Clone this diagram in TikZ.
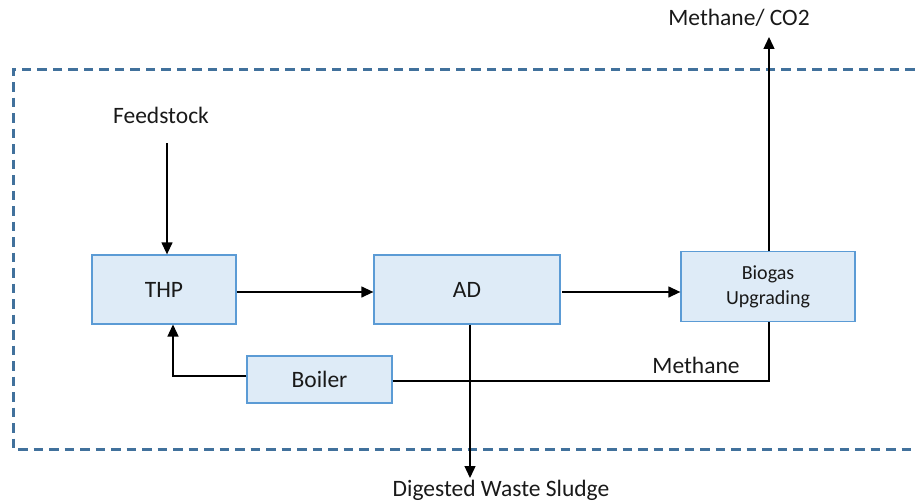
\documentclass[tikz,border=0pt]{standalone}
\usepackage{fontspec}
\setmainfont{Carlito}
\usetikzlibrary{arrows.meta}
\definecolor{boxfill}{HTML}{DEEBF7}
\definecolor{boxline}{HTML}{5B9BD5}
\definecolor{dashcol}{HTML}{41719C}
\tikzset{
  procbox/.style={draw=boxline, fill=boxfill, line width=1.3pt, inner sep=0pt,
    font=\fontsize{23.5}{27}\selectfont, text=black!90},
  lbl/.style={font=\fontsize{23.5}{27}\selectfont, text=black!90, inner sep=0pt},
  conn/.style={line width=1.3pt, -{Triangle[length=12pt,width=11pt]}},
  plain/.style={line width=1.3pt},
  border/.style={draw=dashcol, line width=3pt, dash pattern=on 9.5pt off 6pt}
}
\begin{document}
\begin{tikzpicture}[x=1pt,y=-1pt]
\useasboundingbox (0,0) rectangle (917,503);
\begin{scope}
\clip (0,0) rectangle (917,503);
\draw[border] (930,69) -- (13,69) -- (13,449) -- (930,449);
\end{scope}
\node[procbox, minimum width=144pt, minimum height=69pt] (thp) at (164,289.5) {THP};
\node[procbox, minimum width=186pt, minimum height=69pt] (ad) at (467,289.5) {AD};
\node[procbox, minimum width=174pt, minimum height=70pt, align=center,
      font=\fontsize{20}{25}\selectfont] (bio) at (768,286.5) {Biogas\\Upgrading};
\node[procbox, minimum width=145pt, minimum height=47pt] (boil) at (319.5,379.5) {Boiler};
\node[lbl] (feed) at (161,115) {Feedstock};
\node[lbl] (mco) at (739,18) {Methane/ CO2};
\node[lbl] (meth) at (696,365) {Methane};
\node[lbl] (dws) at (501,490) {Digested Waste Sludge};
\coordinate (fs) at (167,143);
\coordinate (mtop) at (769,37);
\coordinate (dend) at (470,478);
\draw[conn] (fs) -- (fs |- thp.north);
\draw[conn] (thp.east |- 0,292) -- (ad.west |- 0,292);
\draw[conn] (562,292) -- (bio.west |- 0,292);
\draw[conn] (bio.north -| 769,0) -- (mtop);
\draw[conn] (boil.west |- 0,376) -- (173,376) -- (173,324.5);
\draw[plain] (boil.east |- 0,381) -- (769,381) -- (bio.south -| 769,0);
\draw[conn] (ad.south -| 470,0) -- (dend);
\end{tikzpicture}
\end{document}
